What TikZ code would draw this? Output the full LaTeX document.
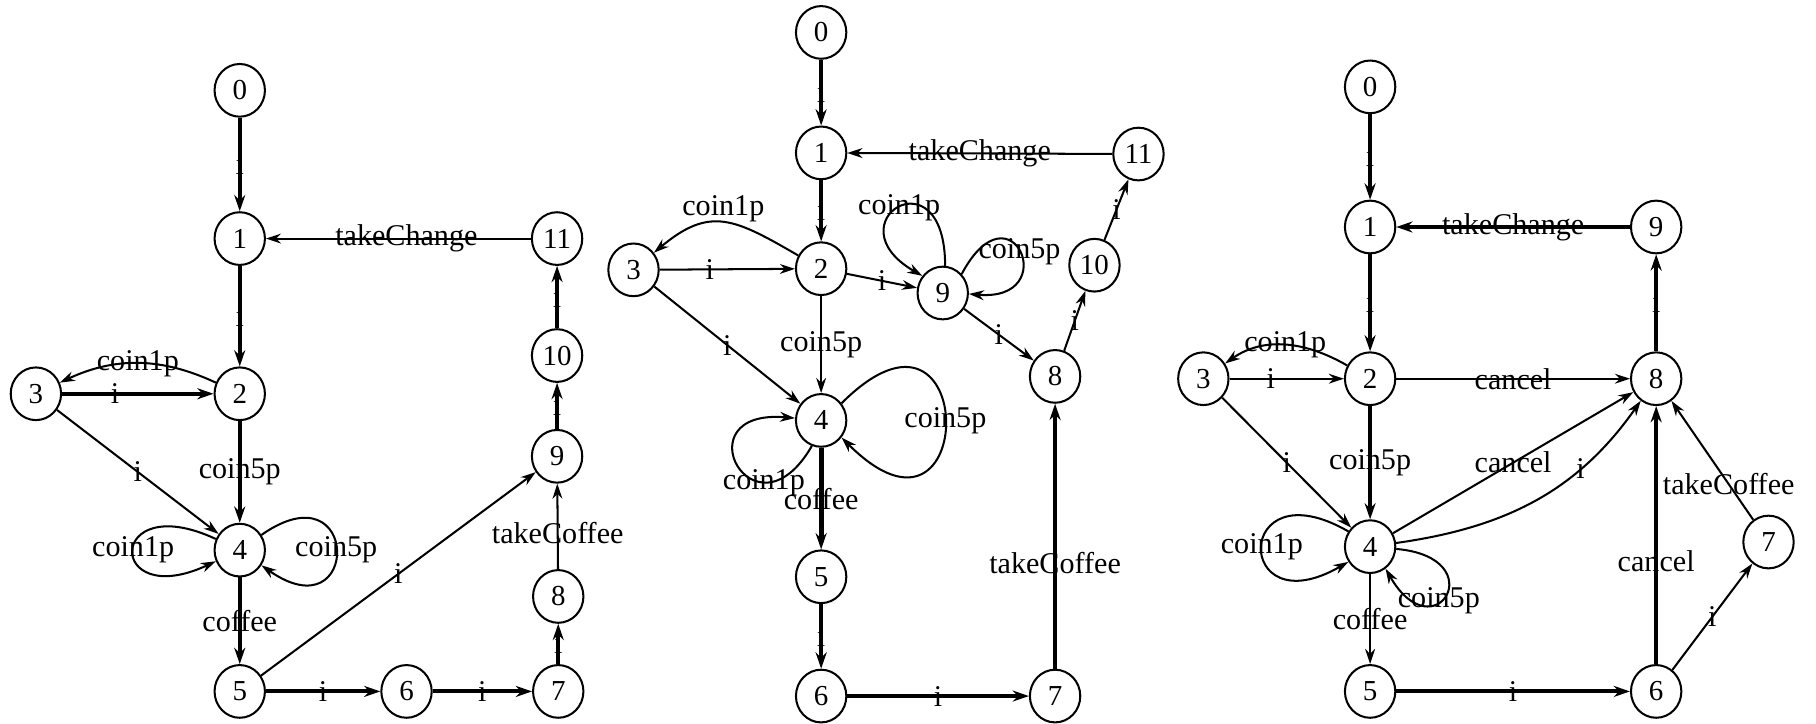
\documentclass[tikz,border=0pt]{standalone}
\usepackage{fontspec}
\setmainfont{Liberation Serif}
\usetikzlibrary{arrows.meta,shapes.geometric}
\begin{document}
\begin{tikzpicture}[x=0.4pt,y=0.4pt,
  st/.style={draw,ellipse,line width=0.7pt,minimum width=17.4pt,minimum height=18.2pt,inner sep=0pt,font=\fontsize{10}{11}\selectfont},
  ed/.style={line width=0.7pt,-{Stealth[length=5.2pt,width=3.4pt]}},
  thk/.style={line width=1.4pt,-{Stealth[length=5.6pt,width=3.8pt]}},
  lb/.style={font=\fontsize{10.4}{11}\selectfont,inner sep=0pt}]
\fill[white] (0,0) rectangle (1568,-625);
\useasboundingbox (0,0) rectangle (1568,-625);

% ---------- left graph ----------
\node[st] (L0) at (207,-78) {0};
\node[st] (L1) at (207,-206) {1};
\node[st] (L11) at (481,-206) {11};
\node[st] (L3) at (31,-340) {3};
\node[st] (L2) at (207,-340) {2};
\node[st] (L10) at (481,-307) {10};
\node[st] (L9) at (481,-394) {9};
\node[st] (L4) at (207,-475) {4};
\node[st] (L8) at (482,-515) {8};
\node[st] (L5) at (207,-597) {5};
\node[st] (L6) at (351,-597) {6};
\node[st] (L7) at (482,-597) {7};

\draw[thk] (L0) -- node[lb]{i} (L1);
\draw[thk] (L1) -- node[lb]{i} (L2);
\draw[ed] (L11) -- node[lb,pos=0.47]{takeChange} (L1);
\draw[ed] (L2) to[out=155,in=25] node[lb]{coin1p} (L3);
\draw[thk] (L3) -- node[lb,pos=0.35]{i} (L2);
\draw[ed] (L3) -- node[lb]{i} (L4);
\draw[thk] (L2) -- node[lb]{coin5p} (L4);
\draw[ed] (L4.155) .. controls +(155:105) and +(205:105) .. node[lb]{coin1p} (L4.205);
\draw[ed] (L4.35) .. controls +(35:105) and +(-35:105) .. node[lb]{coin5p} (L4.-35);
\draw[thk] (L4) -- node[lb]{coffee} (L5);
\draw[ed] (L5) -- node[lb]{i} (L9);
\draw[thk] (L5) -- node[lb]{i} (L6);
\draw[thk] (L6) -- node[lb]{i} (L7);
\draw[thk] (L7) -- node[lb]{i} (L8);
\draw[ed] (L8) -- node[lb,pos=0.42]{takeCoffee} (L9);
\draw[thk] (L9) -- node[lb]{i} (L10);
\draw[thk] (L10) -- node[lb]{i} (L11);

% ---------- middle graph ----------
\node[st] (M0) at (709,-28) {0};
\node[st] (M1) at (709,-132) {1};
\node[st] (M11) at (983,-133) {11};
\node[st] (M3) at (547,-233) {3};
\node[st] (M2) at (709,-232) {2};
\node[st] (M9) at (814,-253) {9};
\node[st] (M10) at (945,-229) {10};
\node[st] (M8) at (911,-325) {8};
\node[st] (M4) at (709,-363) {4};
\node[st] (M5) at (709,-498) {5};
\node[st] (M6) at (709,-601) {6};
\node[st] (M7) at (911,-601) {7};

\draw[thk] (M0) -- node[lb]{i} (M1);
\draw[thk] (M1) -- node[lb]{i} (M2);
\draw[ed] (M11) -- node[lb]{takeChange} (M1);
\draw[ed] (M2) to[out=150,in=40,looseness=1.3] node[lb,above=0pt]{coin1p} (M3);
\draw[ed] (M3) -- node[lb,pos=0.37]{i} (M2);
\draw[ed] (M3) -- node[lb]{i} (M4);
\draw[ed] (M2) -- node[lb]{coin5p} (M4);
\draw[ed] (M2) -- node[lb]{i} (M9);
\draw[ed] (M9.85) .. controls +(90:100) and +(150:92) .. node[lb]{coin1p} (M9.140);
\draw[ed] (M9.45) .. controls +(62:92) and +(-5:82) .. node[lb]{coin5p} (M9.-2);
\draw[ed] (M9) -- node[lb]{i} (M8);
\draw[ed] (M8) -- node[lb]{i} (M10);
\draw[ed] (M10) -- node[lb]{i} (M11);
\draw[ed] (M4.40) .. controls +(45:169) and +(-45:169) .. node[lb]{coin5p} (M4.-40);
\draw[ed] (M4.250) .. controls +(240:100) and +(175:100) .. node[lb,pos=0.28]{coin1p} (M4.175);
\draw[thk,line width=1.7pt] (M4) -- node[lb]{coffee} (M5);
\draw[thk] (M5) -- node[lb]{i} (M6);
\draw[thk] (M6) -- node[lb]{i} (M7);
\draw[thk] (M7) -- node[lb,pos=0.4]{takeCoffee} (M8);

% ---------- right graph ----------
\node[st] (R0) at (1183,-75) {0};
\node[st] (R1) at (1183,-196) {1};
\node[st] (R9) at (1430,-196) {9};
\node[st] (R3) at (1039,-327) {3};
\node[st] (R2) at (1183,-327) {2};
\node[st] (R8) at (1430,-327) {8};
\node[st] (R4) at (1183,-472) {4};
\node[st] (R7) at (1527,-468) {7};
\node[st] (R5) at (1183,-597) {5};
\node[st] (R6) at (1430,-597) {6};

\draw[thk] (R0) -- node[lb]{i} (R1);
\draw[thk] (R1) -- node[lb]{i} (R2);
\draw[thk] (R9) -- node[lb]{takeChange} (R1);
\draw[ed] (R2) to[out=150,in=35] node[lb]{coin1p} (R3);
\draw[ed] (R3) -- node[lb,pos=0.36]{i} (R2);
\draw[ed] (R2) -- node[lb]{cancel} (R8);
\draw[ed] (R3) -- node[lb]{i} (R4);
\draw[thk] (R2) -- node[lb]{coin5p} (R4);
\draw[ed] (R4) -- node[lb]{cancel} (R8);
\draw[ed] (R4) to[out=8,in=-125] node[lb,pos=0.7]{i} (R8);
\draw[ed] (R4.145) .. controls +(150:115) and +(210:115) .. node[lb]{coin1p} (R4.215);
\draw[ed] (R4.-5) .. controls +(-5:85) and +(-60:85) .. node[lb,pos=0.6]{coin5p} (R4.-55);
\draw[ed] (R4) -- node[lb]{coffee} (R5);
\draw[thk] (R5) -- node[lb]{i} (R6);
\draw[thk] (R6) -- node[lb,pos=0.4]{cancel} (R8);
\draw[ed] (R6) -- node[lb]{i} (R7);
\draw[ed] (R7) -- node[lb,pos=0.3]{takeCoffee} (R8);
\draw[thk] (R8) -- node[lb]{i} (R9);
\end{tikzpicture}
\end{document}
